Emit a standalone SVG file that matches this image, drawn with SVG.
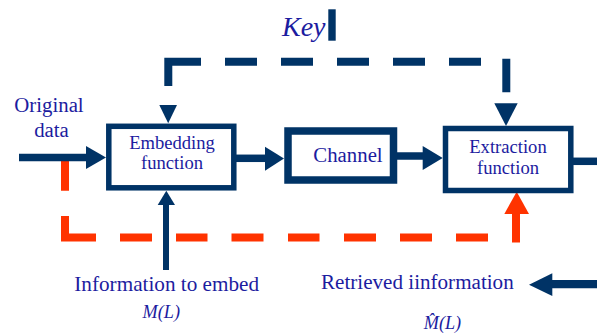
<svg xmlns="http://www.w3.org/2000/svg" width="597" height="334" viewBox="0 0 597 334">
<style>
.box{fill:#fff;stroke:#003366;stroke-width:5.5}
.t{font-family:"Liberation Serif","Times New Roman",serif;fill:#1c1ca0}
.ln{stroke:#003366;stroke-width:7.5;fill:none}
.hd{fill:#003366}
.kd{stroke:#003366;stroke-width:8;fill:none}
.rd{stroke:#ff3300;stroke-width:8;fill:none}
.rh{fill:#ff3300}
</style>
<rect width="597" height="334" fill="#fff"/>
<g id="connectors">
  <!-- key dashed -->
  <path class="kd" d="M168.3,86 V61.7 M164.3,61.7 H201 M225,61.7 H257 M281,61.7 H313 M337,61.7 H369 M393,61.7 H425 M449,61.7 H481 M506.3,58.7 V92.3"/>
  <polygon class="hd" points="159.3,105 177,105 168.2,123.3"/>
  <polygon class="hd" points="494.3,103.3 517.7,103.3 506,126"/>
  <!-- red dashed -->
  <path class="rd" d="M65,160 V190.7 M65,216 V241.5 M61,237.5 H96 M120,237.5 H152 M176,237.5 H207.5 M231.5,237.5 H263.5 M288,237.5 H319.5 M344,237.5 H376 M400,237.5 H432 M456,237.5 H488 M516,242.5 V212"/>
  <polygon class="rh" points="504.3,214 529,214 516.7,191.7"/>
  <!-- original data -> embedding -->
  <line class="ln" x1="19" y1="157.5" x2="88" y2="157.5"/>
  <polygon class="hd" points="86,146 106,157.5 86,169"/>
  <!-- embedding -> channel -->
  <line class="ln" x1="236" y1="158.3" x2="267" y2="158.3"/>
  <polygon class="hd" points="265,146.7 284,158.5 265,170.7"/>
  <!-- channel -> extraction -->
  <line class="ln" x1="396" y1="156" x2="424" y2="156"/>
  <polygon class="hd" points="422.7,146 442.7,158 422.7,170"/>
  <!-- extraction output -->
  <line class="ln" x1="572" y1="161.3" x2="597" y2="161.3"/>
  <!-- information to embed -->
  <line class="ln" x1="166" y1="270" x2="166" y2="203" style="stroke-width:6"/>
  <polygon class="hd" points="157.7,205 175,205 166.3,190.7"/>
  <!-- retrieved -->
  <line class="ln" x1="597" y1="284.2" x2="550" y2="284.2" style="stroke-width:8.3"/>
  <polygon class="hd" points="552.3,273.3 552.3,296 529,284.7"/>
  <rect x="328.3" y="9.3" width="7.4" height="31.4" fill="#003366"/>
</g>
<g id="embedding">
  <rect class="box" x="108.8" y="126.3" width="125" height="61.5"/>
  <text class="t" x="172" y="148.5" font-size="18.6" text-anchor="middle">Embedding</text>
  <text class="t" x="172" y="168.5" font-size="18.6" text-anchor="middle">function</text>
</g>
<g id="channel">
  <rect class="box" x="288" y="131" width="105.5" height="49" style="stroke-width:7.5"/>
  <text class="t" x="348" y="161.7" font-size="20.8" text-anchor="middle">Channel</text>
</g>
<g id="extraction">
  <rect class="box" x="445.5" y="128.5" width="125.3" height="62"/>
  <text class="t" x="508" y="152.7" font-size="18.6" text-anchor="middle">Extraction</text>
  <text class="t" x="508" y="174" font-size="18.6" text-anchor="middle">function</text>
</g>
<g id="key">
  <text class="t" x="282" y="36" font-size="28" font-style="italic">Key</text>
</g>
<g id="original-data">
  <text class="t" x="49" y="112" font-size="20.8" text-anchor="middle">Original</text>
  <text class="t" x="51.5" y="136.7" font-size="20.8" text-anchor="middle">data</text>
</g>
<g id="information">
  <text class="t" x="166.7" y="290.7" font-size="21.2" text-anchor="middle">Information to embed</text>
  <text class="t" x="161.3" y="317.7" font-size="18.2" text-anchor="middle" font-style="italic">M(L)</text>
</g>
<g id="retrieved">
  <text class="t" x="321" y="289" font-size="21.1">Retrieved iinformation</text>
  <text class="t" x="442.5" y="329.3" font-size="18.2" text-anchor="middle" font-style="italic">M&#x302;(L)</text>
</g>
</svg>
